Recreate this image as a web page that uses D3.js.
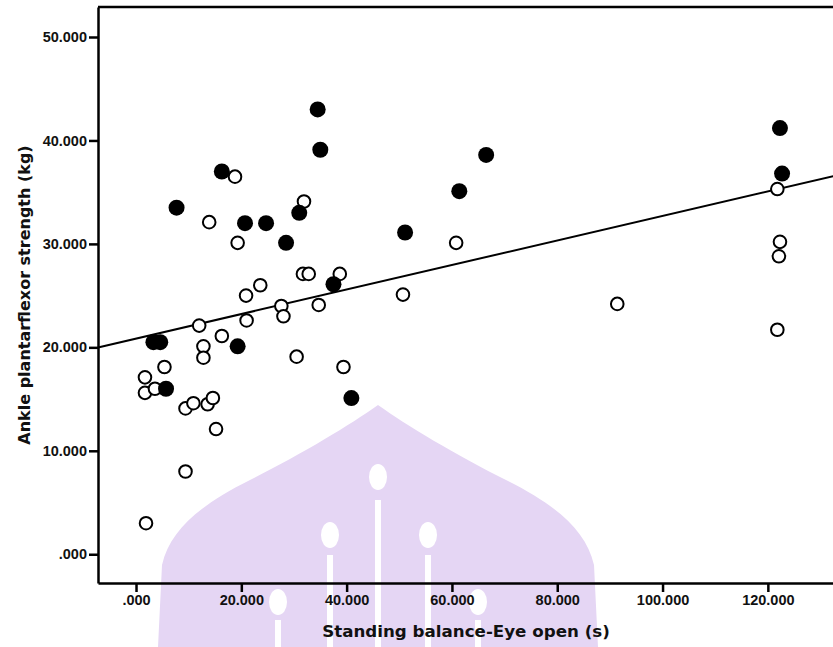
<!DOCTYPE html>
<html>
<head>
<meta charset="utf-8">
<script src="https://cdn.jsdelivr.net/npm/d3@7"></script>
<style>
  body { margin: 0; background: #fff; }
  text { font-family: "Liberation Sans", Arial, sans-serif; }
  .title { font-family: "DejaVu Sans", sans-serif; }
</style>
</head>
<body>
<div id="chart"></div>
<script>
// Data: [standing balance eyes open (s), ankle plantarflexor strength (kg)]
const openPoints = [
  [18.8, 36.5], [13.9, 32.1], [19.3, 30.1], [31.9, 34.1], [31.7, 27.1],
  [32.8, 27.1], [38.7, 27.1], [23.6, 26.0], [20.9, 25.0], [27.6, 24.0],
  [28.0, 23.0], [21.0, 22.6], [12.0, 22.1], [16.3, 21.1], [12.8, 20.1],
  [12.8, 19.0], [30.5, 19.1], [34.7, 24.1], [50.7, 25.1], [60.8, 30.1],
  [39.4, 18.1], [5.4, 18.1], [1.7, 17.1], [1.7, 15.6], [3.6, 16.0],
  [9.4, 14.1], [10.9, 14.6], [13.6, 14.5], [14.6, 15.1], [15.2, 12.1],
  [9.4, 8.0], [1.9, 3.0], [91.4, 24.2], [121.8, 35.3], [122.3, 30.2],
  [122.1, 28.8], [121.8, 21.7]
];
const filledPoints = [
  [34.5, 43.0], [35.0, 39.1], [16.3, 37.0], [66.5, 38.6], [61.4, 35.1],
  [7.7, 33.5], [31.0, 33.0], [20.7, 32.0], [24.7, 32.0], [28.5, 30.1],
  [51.1, 31.1], [37.5, 26.1], [3.3, 20.5], [4.6, 20.5], [19.3, 20.1],
  [5.7, 16.0], [40.9, 15.1], [122.3, 41.2], [122.7, 36.8]
];
const fitLine = { intercept: 20.85, slope: 0.1185 };
const xTicks = [0, 20, 40, 60, 80, 100, 120];
const yTicks = [0, 10, 20, 30, 40, 50];
const xTitle = "Standing balance-Eye open (s)";
const yTitle = "Ankle plantarflexor strength (kg)";

const width = 833, height = 647;
const plotLeft = 98, plotTop = 7, plotBottom = 583, plotRight = 860;

const svg = d3.select("#chart").append("svg")
  .attr("width", width)
  .attr("height", height);

svg.append("rect").attr("width", width).attr("height", height).attr("fill", "#fff");

// Scales
const x = d3.scaleLinear().domain([-7.22, 137.5]).range([plotLeft, plotRight]);
const y = d3.scaleLinear().domain([-2.78, 52.9]).range([plotBottom, plotTop]);

// faint watermark behind the plot
const wm = svg.append("g").attr("class", "watermark");
wm.append("path")
  .attr("d", "M378,405 C350,425 300,455 250,480 C200,505 170,530 162,565 L158,647 L598,647 L594,565 C586,530 556,505 506,480 C456,455 406,425 378,405 Z")
  .attr("fill", "#e5d6f4");
[[378, 477, 500], [330, 535, 555], [428, 535, 555], [278, 602, 620], [478, 602, 620]].forEach(function(s) {
  wm.append("ellipse").attr("cx", s[0]).attr("cy", s[1]).attr("rx", 9).attr("ry", 13).attr("fill", "#fff");
  wm.append("rect").attr("x", s[0] - 3).attr("y", s[2]).attr("width", 6).attr("height", height - s[2]).attr("fill", "#fff");
});

// Frame: top border, y axis, x axis
svg.append("line")
  .attr("x1", plotLeft).attr("x2", width).attr("y1", plotTop).attr("y2", plotTop)
  .attr("stroke", "#000").attr("stroke-width", 2.5);

const fmt = function(d) { return d === 0 ? ".000" : d3.format(".3f")(d); };

const yAxis = d3.axisLeft(y).tickValues(yTicks).tickSize(9).tickSizeOuter(0).tickFormat(fmt);
const gy = svg.append("g").attr("transform", "translate(" + plotLeft + ",0)").call(yAxis);
gy.select(".domain").attr("stroke-width", 2.5);
gy.selectAll(".tick line").attr("stroke-width", 2.5);
gy.selectAll(".tick text")
  .attr("x", -11)
  .style("font-size", "14.5px").style("font-weight", "bold").attr("fill", "#111");

const xAxis = d3.axisBottom(x).tickValues(xTicks).tickSize(9).tickSizeOuter(0).tickFormat(fmt);
const gx = svg.append("g").attr("transform", "translate(0," + plotBottom + ")").call(xAxis);
gx.select(".domain").attr("stroke-width", 2.5);
gx.selectAll(".tick line").attr("stroke-width", 2.5);
gx.selectAll(".tick text")
  .attr("y", 12)
  .style("font-size", "14.5px").style("font-weight", "bold").attr("fill", "#111");

// Axis titles
svg.append("text")
  .attr("class", "title")
  .attr("x", 466).attr("y", 637)
  .attr("text-anchor", "middle")
  .style("font-size", "16.7px").style("font-weight", "bold").attr("fill", "#111")
  .text(xTitle);

svg.append("text")
  .attr("class", "title")
  .attr("transform", "translate(30,295) rotate(-90)")
  .attr("text-anchor", "middle")
  .style("font-size", "16px").style("font-weight", "bold").attr("fill", "#111")
  .text(yTitle);

// Fit line
const plot = svg.append("g");
const xDom = x.domain();
plot.append("line")
  .attr("x1", x(xDom[0])).attr("y1", y(fitLine.intercept + fitLine.slope * xDom[0]))
  .attr("x2", x(xDom[1])).attr("y2", y(fitLine.intercept + fitLine.slope * xDom[1]))
  .attr("stroke", "#000").attr("stroke-width", 2);

// Points
plot.selectAll(".open")
  .data(openPoints)
  .enter()
  .append("circle")
  .attr("class", "open")
  .attr("cx", function(d) { return x(d[0]); })
  .attr("cy", function(d) { return y(d[1]); })
  .attr("r", 6.3)
  .attr("fill", "#fff")
  .attr("stroke", "#000")
  .attr("stroke-width", 2);

plot.selectAll(".filled")
  .data(filledPoints)
  .enter()
  .append("circle")
  .attr("class", "filled")
  .attr("cx", function(d) { return x(d[0]); })
  .attr("cy", function(d) { return y(d[1]); })
  .attr("r", 8)
  .attr("fill", "#000");
</script>
</body>
</html>
